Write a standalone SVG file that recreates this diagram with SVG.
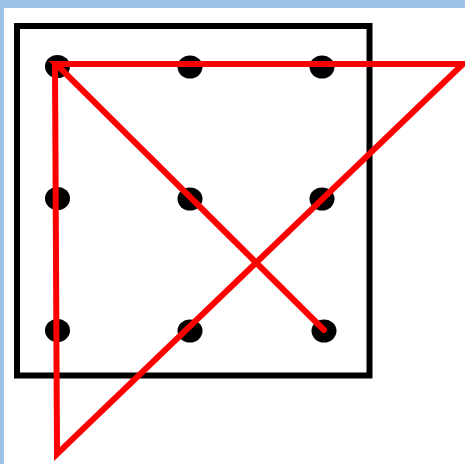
<svg xmlns="http://www.w3.org/2000/svg" width="465" height="464" viewBox="0 0 465 464">
<style>
.dot{fill:#000}
.red{stroke:#ff0000;stroke-width:6;fill:none;stroke-linejoin:miter;stroke-linecap:round}
</style>
<rect x="0" y="0" width="465" height="464" fill="#9dc3e6"/>
<rect x="4" y="8" width="461" height="456" fill="#fff"/>
<rect id="frame" x="17" y="26" width="352.5" height="349.5" fill="none" stroke="#000" stroke-width="6"/>
<g id="dots">
<g id="d11"><ellipse class="dot" cx="57.5" cy="66.5" rx="12.5" ry="11.5"/></g>
<g id="d12"><ellipse class="dot" cx="190" cy="67" rx="12.5" ry="11.5"/></g>
<g id="d13"><ellipse class="dot" cx="322" cy="67" rx="12.5" ry="11.5"/></g>
<g id="d21"><ellipse class="dot" cx="57.5" cy="198.5" rx="12.5" ry="11.5"/></g>
<g id="d22"><ellipse class="dot" cx="190" cy="199" rx="12.5" ry="11.5"/></g>
<g id="d23"><ellipse class="dot" cx="322" cy="199" rx="12.5" ry="11.5"/></g>
<g id="d31"><ellipse class="dot" cx="57.5" cy="330.5" rx="12.5" ry="11.5"/></g>
<g id="d32"><ellipse class="dot" cx="190" cy="331" rx="12.5" ry="11.5"/></g>
<g id="d33"><ellipse class="dot" cx="324" cy="331" rx="12.5" ry="11.5"/></g>
</g>
<g id="connectors">
<polyline class="red" points="324,330 56,64 463,64 57,454 55,64"/>
</g>
</svg>
